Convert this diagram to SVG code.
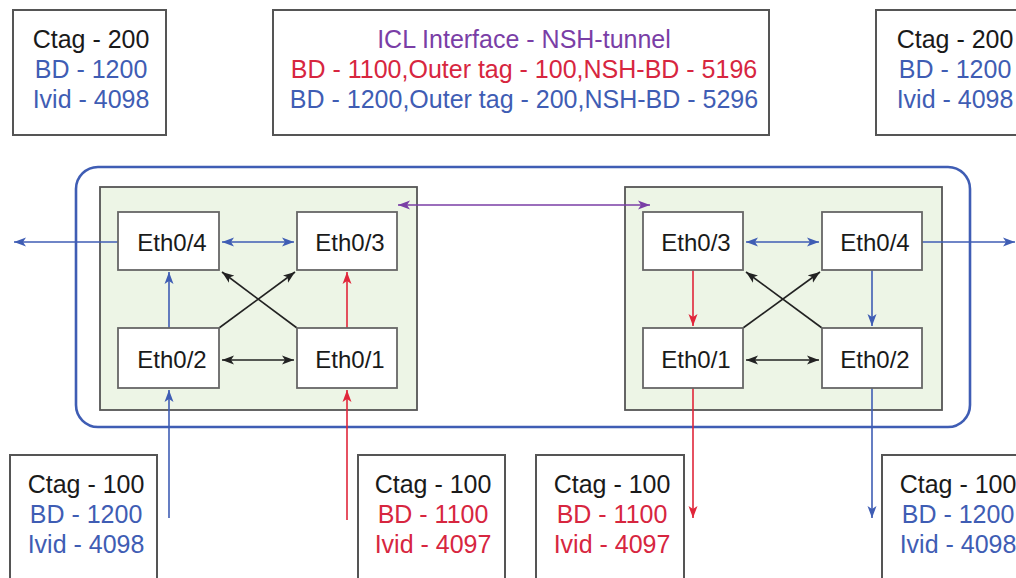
<svg xmlns="http://www.w3.org/2000/svg" width="1016" height="578" viewBox="0 0 1016 578">
<style>
text{font-family:"Liberation Sans",Arial,sans-serif;font-size:24px;text-anchor:middle}
.info text{font-size:25px}
.k{fill:#1a1a1a}.b{fill:#3f5db4}.r{fill:#d7263f}.p{fill:#7a3ea6}
.box{fill:#fff;stroke:#555;stroke-width:2}
.node{fill:#fff;stroke:#666;stroke-width:1.8}
.panel{fill:#edf5e6;stroke:#555;stroke-width:1.8}
.lb{stroke:#3f5db4;stroke-width:1.6;fill:none}
.lr{stroke:#e0263a;stroke-width:1.6;fill:none}
.lk{stroke:#222;stroke-width:1.6;fill:none}
.lp{stroke:#7a3ea6;stroke-width:1.6;fill:none}
</style>
<defs>
<marker id="ab" markerUnits="userSpaceOnUse" markerWidth="14" markerHeight="10" refX="12" refY="5" orient="auto-start-reverse"><path d="M0,0.5 L12,5 L0,9.5 L3,5 z" fill="#3f5db4"/></marker>
<marker id="ar" markerUnits="userSpaceOnUse" markerWidth="14" markerHeight="10" refX="12" refY="5" orient="auto-start-reverse"><path d="M0,0.5 L12,5 L0,9.5 L3,5 z" fill="#e0263a"/></marker>
<marker id="ak" markerUnits="userSpaceOnUse" markerWidth="14" markerHeight="10" refX="12" refY="5" orient="auto-start-reverse"><path d="M0,0.5 L12,5 L0,9.5 L3,5 z" fill="#222"/></marker>
<marker id="ap" markerUnits="userSpaceOnUse" markerWidth="14" markerHeight="10" refX="12" refY="5" orient="auto-start-reverse"><path d="M0,0.5 L12,5 L0,9.5 L3,5 z" fill="#7a3ea6"/></marker>
</defs>

<g id="info-top-left" class="info"><rect class="box" x="13" y="10" width="153" height="125"/>
<text x="91" y="48" class="k">Ctag - 200</text><text x="91" y="78" class="b">BD - 1200</text><text x="91" y="108" class="b">Ivid - 4098</text></g>

<g id="info-icl" class="info"><rect class="box" x="273" y="10" width="496" height="125"/>
<text x="524" y="48" class="p">ICL Interface - NSH-tunnel</text>
<text x="524" y="78" class="r">BD - 1100,Outer tag - 100,NSH-BD - 5196</text>
<text x="524" y="108" class="b">BD - 1200,Outer tag - 200,NSH-BD - 5296</text></g>

<g id="info-top-right" class="info"><rect class="box" x="876" y="10" width="153" height="125"/>
<text x="955" y="48" class="k">Ctag - 200</text><text x="955" y="78" class="b">BD - 1200</text><text x="955" y="108" class="b">Ivid - 4098</text></g>

<g id="cluster"><rect x="76" y="167" width="894" height="260" rx="22" fill="none" stroke="#3f5db4" stroke-width="2.6"/></g>

<g id="switch-left"><rect class="panel" x="100" y="187" width="317" height="223"/></g>
<g id="switch-right"><rect class="panel" x="625" y="187" width="317" height="223"/></g>

<g id="connectors">
<line class="lb" x1="118" y1="242" x2="14" y2="242" marker-end="url(#ab)"/>
<line class="lb" x1="222" y1="242" x2="294" y2="242" marker-start="url(#ab)" marker-end="url(#ab)"/>
<line class="lb" x1="169" y1="328" x2="169" y2="272" marker-end="url(#ab)"/>
<line class="lr" x1="347" y1="328" x2="347" y2="272" marker-end="url(#ar)"/>
<line class="lk" x1="222" y1="360" x2="294" y2="360" marker-start="url(#ak)" marker-end="url(#ak)"/>
<line class="lk" x1="219" y1="328" x2="295" y2="272" marker-end="url(#ak)"/>
<line class="lk" x1="297" y1="328" x2="222" y2="272" marker-end="url(#ak)"/>
<line class="lb" x1="169" y1="518" x2="169" y2="390" marker-end="url(#ab)"/>
<line class="lr" x1="347" y1="520" x2="347" y2="390" marker-end="url(#ar)"/>
<line class="lp" x1="398" y1="205" x2="650" y2="205" marker-start="url(#ap)" marker-end="url(#ap)"/>
<line class="lb" x1="746" y1="242" x2="819" y2="242" marker-start="url(#ab)" marker-end="url(#ab)"/>
<line class="lb" x1="922" y1="242" x2="1015" y2="242" marker-end="url(#ab)"/>
<line class="lr" x1="693" y1="270" x2="693" y2="326" marker-end="url(#ar)"/>
<line class="lb" x1="872" y1="270" x2="872" y2="326" marker-end="url(#ab)"/>
<line class="lk" x1="746" y1="360" x2="819" y2="360" marker-start="url(#ak)" marker-end="url(#ak)"/>
<line class="lk" x1="743" y1="328" x2="820" y2="272" marker-end="url(#ak)"/>
<line class="lk" x1="822" y1="328" x2="746" y2="272" marker-end="url(#ak)"/>
<line class="lr" x1="693" y1="388" x2="693" y2="518" marker-end="url(#ar)"/>
<line class="lb" x1="872" y1="388" x2="872" y2="518" marker-end="url(#ab)"/>
</g>

<g id="L-eth04"><rect class="node" x="118" y="212" width="101" height="58"/><text x="172" y="251" class="k">Eth0/4</text></g>
<g id="L-eth03"><rect class="node" x="297" y="212" width="100" height="58"/><text x="350" y="251" class="k">Eth0/3</text></g>
<g id="L-eth02"><rect class="node" x="118" y="328" width="101" height="60"/><text x="172" y="368" class="k">Eth0/2</text></g>
<g id="L-eth01"><rect class="node" x="297" y="328" width="100" height="60"/><text x="350" y="368" class="k">Eth0/1</text></g>

<g id="R-eth03"><rect class="node" x="643" y="212" width="100" height="58"/><text x="696" y="251" class="k">Eth0/3</text></g>
<g id="R-eth04"><rect class="node" x="822" y="212" width="100" height="58"/><text x="875" y="251" class="k">Eth0/4</text></g>
<g id="R-eth01"><rect class="node" x="643" y="328" width="100" height="60"/><text x="696" y="368" class="k">Eth0/1</text></g>
<g id="R-eth02"><rect class="node" x="822" y="328" width="100" height="60"/><text x="875" y="368" class="k">Eth0/2</text></g>

<g id="info-b1" class="info"><rect class="box" x="10" y="455" width="147" height="140"/>
<text x="86" y="493" class="k">Ctag - 100</text><text x="86" y="523" class="b">BD - 1200</text><text x="86" y="553" class="b">Ivid - 4098</text></g>
<g id="info-b2" class="info"><rect class="box" x="358" y="455" width="147" height="140"/>
<text x="433" y="493" class="k">Ctag - 100</text><text x="433" y="523" class="r">BD - 1100</text><text x="433" y="553" class="r">Ivid - 4097</text></g>
<g id="info-b3" class="info"><rect class="box" x="536" y="455" width="148" height="140"/>
<text x="612" y="493" class="k">Ctag - 100</text><text x="612" y="523" class="r">BD - 1100</text><text x="612" y="553" class="r">Ivid - 4097</text></g>
<g id="info-b4" class="info"><rect class="box" x="882" y="455" width="147" height="140"/>
<text x="958" y="493" class="k">Ctag - 100</text><text x="958" y="523" class="b">BD - 1200</text><text x="958" y="553" class="b">Ivid - 4098</text></g>
</svg>
